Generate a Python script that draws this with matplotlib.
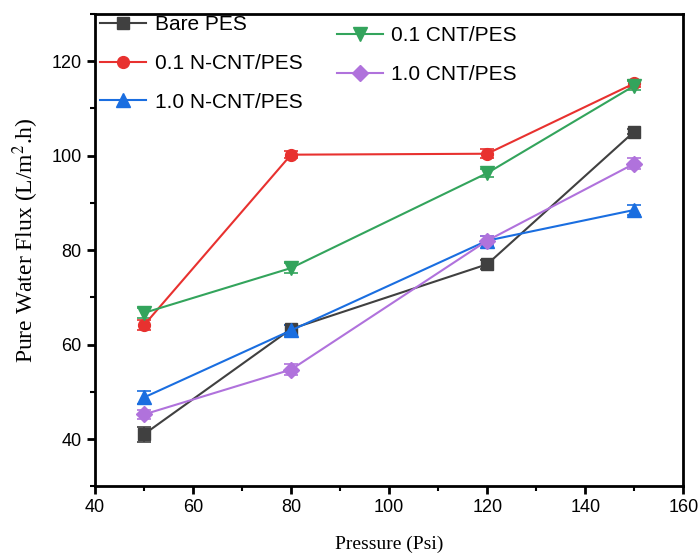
import numpy as np
import matplotlib.pyplot as plt
from matplotlib.lines import Line2D
from matplotlib.ticker import MultipleLocator

pressure = [50, 80, 120, 150]

bare_pes = [41.0, 63.3, 77.0, 105.1]
bare_err = [1.6, 0.9, 0.9, 0.6]
ncnt01 = [64.1, 100.2, 100.4, 115.3]
ncnt01_err = [1.1, 0.8, 0.9, 0.8]
ncnt10 = [48.8, 63.0, 82.0, 88.5]
ncnt10_err = [1.3, 1.2, 1.0, 1.0]
cnt01 = [66.7, 76.2, 96.3, 114.8]
cnt01_err = [1.1, 1.1, 0.9, 1.0]
cnt10 = [45.2, 54.7, 82.0, 98.3]
cnt10_err = [1.0, 1.1, 1.0, 1.2]

plt.rcParams['font.family'] = ['Liberation Sans', 'DejaVu Sans']
plt.rcParams['mathtext.fontset'] = 'stix'

fig = plt.figure(figsize=(6.98, 5.57), dpi=100)
ax = fig.add_axes([0.136, 0.127, 0.843, 0.848])

def draw(y, err, color, marker, label, ms):
    ax.errorbar(pressure, y, yerr=err, color=color, marker=marker,
                markersize=ms, linewidth=1.5, elinewidth=1.2,
                capsize=5, capthick=1.2)
    return Line2D([], [], color=color, marker=marker, markersize=ms,
                  linewidth=1.5, label=label)

h1 = draw(bare_pes, bare_err, '#404040', 's', 'Bare PES', 8)
h2 = draw(ncnt01, ncnt01_err, '#e8312f', 'o', '0.1 N-CNT/PES', 8.5)
h3 = draw(ncnt10, ncnt10_err, '#1a6ee0', '^', '1.0 N-CNT/PES', 9.5)
h4 = draw(cnt01, cnt01_err, '#33a45c', 'v', '0.1 CNT/PES', 9.5)
h5 = draw(cnt10, cnt10_err, '#b072dc', 'D', '1.0 CNT/PES', 8)

ax.set_xlim(40, 160)
ax.set_ylim(30, 130)
ax.xaxis.set_major_locator(MultipleLocator(20))
ax.xaxis.set_minor_locator(MultipleLocator(10))
ax.yaxis.set_minor_locator(MultipleLocator(10))
ax.set_yticks([40, 60, 80, 100, 120])
ax.tick_params(which='major', direction='out', length=6, width=2, labelsize=13)
ax.tick_params(which='minor', direction='out', length=3.5, width=1.5)
for s in ax.spines.values():
    s.set_linewidth(2)

ax.set_xlabel('Pressure (Psi)', fontsize=14, family='Liberation Serif', labelpad=14)
ax.set_ylabel('Pure Water Flux (L/m$^{2}$.h)', fontsize=17,
              family='Liberation Serif')
ax.yaxis.set_label_coords(-0.092, 0.52)

leg1 = ax.legend(handles=[h1, h2, h3], loc='upper left',
                 bbox_to_anchor=(-0.012, 1.024), frameon=False,
                 fontsize=15, labelspacing=0.95, handlelength=2.2,
                 handletextpad=0.4, borderaxespad=0.2)
ax.add_artist(leg1)
ax.legend(handles=[h4, h5], loc='upper left', bbox_to_anchor=(0.39, 1.0),
          frameon=False, fontsize=15, labelspacing=0.95, handlelength=2.2,
          handletextpad=0.4, borderaxespad=0.2)

fig.savefig('out.png', dpi=100)
